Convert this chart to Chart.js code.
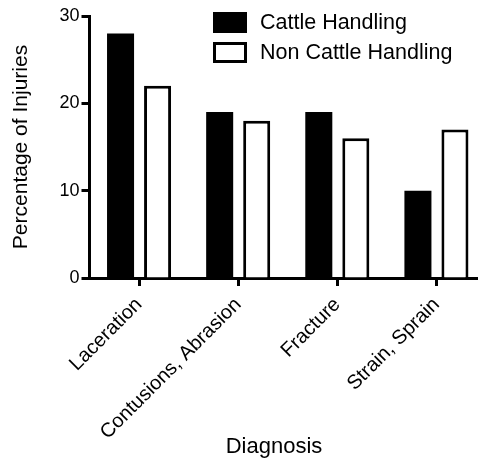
<!DOCTYPE html>
<html>
<head>
<meta charset="utf-8">
<script src="https://cdn.jsdelivr.net/npm/chart.js@4"></script>
<style>
  html, body { margin: 0; padding: 0; background: #fff; overflow: hidden; }
  #wrap { width: 478px; height: 462px; overflow: hidden; }
</style>
</head>
<body>
<div id="wrap"><canvas id="chart" width="486" height="462"></canvas></div>
<script>
/* global Chart */
const categories = ['Laceration', 'Contusions, Abrasion', 'Fracture', 'Strain, Sprain']
const seriesNames = ['Cattle Handling', 'Non Cattle Handling']
const cattleValues = [28, 19, 19, 10]
const nonCattleValues = [22, 18, 16, 17]
const yTicks = [0, 10, 20, 30]
const xTitle = 'Diagnosis'

const FONT = 'Liberation Sans, Arial, Helvetica, sans-serif'

// legend drawn inside the plot, top right, plus the x title
// (the original centres it a bit left of the plot centre)
const boxLegend = {
  id: 'boxLegend',
  afterDraw (chart) {
    const ctx = chart.ctx
    ctx.save()
    chart.data.datasets.forEach((ds, i) => {
      const x = 213
      const y = 12 + i * 30
      ctx.fillStyle = ds.backgroundColor
      ctx.fillRect(x, y, 34, 21)
      if (ds.borderWidth) {
        ctx.lineWidth = 3
        ctx.strokeStyle = ds.borderColor
        ctx.strokeRect(x + 1.5, y + 1.5, 31, 18)
      }
      ctx.fillStyle = '#000'
      ctx.font = '21.5px ' + FONT
      ctx.textBaseline = 'middle'
      ctx.textAlign = 'left'
      ctx.fillText(ds.label, 260, y + 11)
    })
    ctx.font = '22px ' + FONT
    ctx.textAlign = 'center'
    ctx.textBaseline = 'middle'
    ctx.fillText(xTitle, 274, 447)
    ctx.restore()
  }
}

const barOpts = {
  categoryPercentage: 0.747,
  barPercentage: 0.73
}

const myChart = new Chart(document.getElementById('chart'), {
  type: 'bar',
  data: {
    labels: categories,
    datasets: [
      Object.assign({
        label: seriesNames[0],
        data: cattleValues,
        backgroundColor: '#000',
        borderWidth: 0
      }, barOpts),
      Object.assign({
        label: seriesNames[1],
        data: nonCattleValues,
        backgroundColor: '#fff',
        borderColor: '#000',
        borderWidth: 3
      }, barOpts)
    ]
  },
  options: {
    responsive: false,
    animation: false,
    layout: { padding: { top: 16, left: 0, right: 0, bottom: 0 } },
    plugins: {
      legend: { display: false },
      tooltip: { enabled: false }
    },
    scales: {
      x: {
        afterFit (scale) { scale.height = 184 },
        border: { display: true, color: '#000', width: 3 },
        grid: {
          offset: false,
          drawOnChartArea: false,
          tickLength: 8,
          tickWidth: 3,
          tickColor: '#000'
        },
        ticks: {
          color: '#000',
          font: { family: FONT, size: 20 },
          minRotation: 45,
          maxRotation: 45,
          padding: 7
        },
        title: { display: false }
      },
      y: {
        min: 0,
        max: 30,
        afterFit (scale) { scale.width = 89.5 },
        afterBuildTicks (scale) { scale.ticks = yTicks.map(v => ({ value: v })) },
        border: { display: true, color: '#000', width: 3 },
        grid: {
          drawOnChartArea: false,
          tickLength: 8,
          tickWidth: 3,
          tickColor: '#000'
        },
        ticks: {
          color: '#000',
          font: { family: FONT, size: 18 },
          padding: 2
        },
        title: {
          display: true,
          text: 'Percentage of Injuries',
          color: '#000',
          font: { family: FONT, size: 21 },
          padding: { top: 9, bottom: 0 }
        }
      }
    }
  },
  plugins: [boxLegend]
})
</script>
</body>
</html>
